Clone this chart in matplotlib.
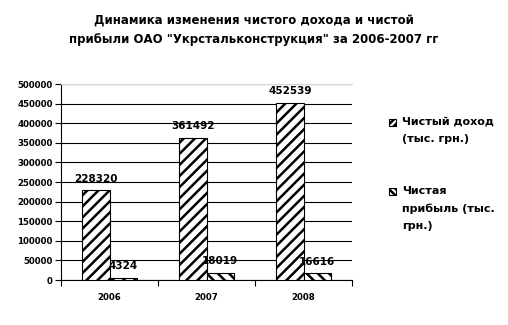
import numpy as np
import matplotlib
matplotlib.use('Agg')
import matplotlib.pyplot as plt
from matplotlib.patches import Rectangle

# data
years = ['2006', '2007', '2008']
revenue = [228320, 361492, 452539]
profit = [4324, 18019, 16616]
title = 'Динамика изменения чистого дохода и чистой\nприбыли ОАО "Укрстальконструкция" за 2006-2007 гг'
lbl_rev = 'Чистый доход\n(тыс. грн.)'
lbl_prof = 'Чистая\nприбыль (тыс.\nгрн.)'

plt.rcParams['font.family'] = ['DejaVu Sans']
plt.rcParams['font.weight'] = 'bold'
plt.rcParams['hatch.linewidth'] = 1.8

W, H = 508, 325
fig = plt.figure(figsize=(W/100, H/100), dpi=100)
ax = fig.add_axes([61/W, 1 - 280/H, 291/W, 196/H])

x = np.arange(len(years))
w = 0.283
b1 = ax.bar(x - w/2, revenue, w, color='white', edgecolor='black', hatch='///', linewidth=0.8, zorder=3)
b2 = ax.bar(x + w/2, profit, w, color='white', edgecolor='black', hatch='\\\\\\', linewidth=0.8, zorder=3)

for bars, vals in ((b1, revenue), (b2, profit)):
    for r, v in zip(bars, vals):
        ax.annotate(str(v), (r.get_x() + r.get_width()/2, v), xytext=(0, 5),
                    textcoords='offset points', ha='center', va='bottom',
                    fontsize=7.5, fontweight='bold', zorder=4)

ax.set_xlim(-0.5, 2.5)
ax.set_ylim(0, 500000)
ax.set_yticks(np.arange(0, 500001, 50000))
ax.set_yticklabels([str(v) for v in range(0, 500001, 50000)], fontsize=6.2, fontweight='bold')
ax.set_xticks(x)
ax.set_xticklabels(years, fontsize=6.2, fontweight='bold')
ax.set_xticks([-0.5, 0.5, 1.5, 2.5], minor=True)
ax.tick_params(axis='x', which='major', length=0, pad=9)
ax.tick_params(axis='x', which='minor', length=4, width=0.8, direction='out')
ax.tick_params(axis='y', length=4, width=0.8, direction='out', pad=2)
ax.yaxis.grid(True, color='black', linewidth=0.8, zorder=0)
ax.set_axisbelow(True)
ax.spines['right'].set_visible(False)
ax.spines['top'].set_color('#d8d8d8')
ax.spines['left'].set_linewidth(0.8)
ax.spines['bottom'].set_linewidth(0.8)

fig.text(0.5, 1 - 30/H, title, ha='center', va='center', fontsize=8.5, fontweight='bold', linespacing=1.6)

# legend drawn by hand: small hatched square next to the first text line
for ytop, hatch, label in ((117, '/////', lbl_rev), (186, '\\\\\\\\\\', lbl_prof)):
    fig.patches.append(Rectangle((389/W, 1 - (ytop + 9)/H), 7/W, 7/H, transform=fig.transFigure,
                                 facecolor='white', edgecolor='black', hatch=hatch, linewidth=0.8))
    fig.text(402/W, 1 - ytop/H, label, ha='left', va='top', fontsize=8, fontweight='bold', linespacing=1.85)

fig.savefig('out.png', dpi=100)
